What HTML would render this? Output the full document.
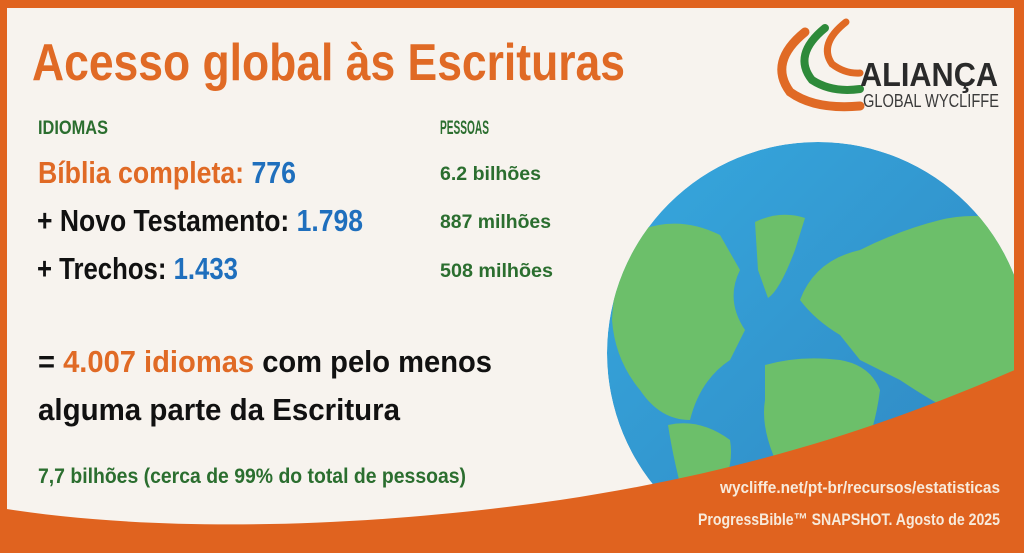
<!DOCTYPE html>
<html><head><meta charset="utf-8"><style>
html,body{margin:0;padding:0;background:#f7f3ee;}
svg{display:block}
</style></head><body>
<svg width="1024" height="553" viewBox="0 0 1024 553" xmlns="http://www.w3.org/2000/svg">
<defs>
<clipPath id="g"><circle cx="818" cy="353" r="211"/></clipPath>
<linearGradient id="oc" x1="0" y1="0" x2="1" y2="1">
<stop offset="0" stop-color="#36a8de"/><stop offset="1" stop-color="#2f84bf"/></linearGradient>
</defs>
<rect width="1024" height="553" fill="#f7f3ee"/>
<g clip-path="url(#g)">
<circle cx="818" cy="353" r="211" fill="url(#oc)"/>
<g fill="#6cbf6a">
<path d="M640,230 Q680,215 720,235 L740,270 Q725,300 745,330 L730,360 Q700,380 690,420 Q660,420 640,390 Q615,360 612,320 Q615,260 640,230Z"/>
<path d="M755,222 Q780,210 805,218 L795,250 Q780,290 768,298 L758,270 Z"/>
<path d="M800,300 Q815,260 860,250 Q900,230 940,220 Q980,210 1030,225 L1030,400 Q1000,410 980,420 L950,410 Q930,400 900,380 Q880,370 860,360 L840,335 Q815,320 800,300Z"/>
<path d="M765,365 Q800,355 840,360 Q870,365 880,390 Q875,430 860,460 Q840,490 820,500 L780,470 Q760,430 765,400Z"/>
<path d="M668,425 Q700,418 730,440 Q735,470 715,500 L690,520 Q675,470 668,425Z"/>
</g>
</g>
<path d="M0,508 C150,532 350,530 560,500 C760,470 900,420 1024,366 L1024,553 L0,553 Z" fill="#e0631f"/>
<rect x="0" y="0" width="1024" height="8" fill="#e0631f"/>
<rect x="0" y="0" width="7" height="553" fill="#e0631f"/>
<rect x="1014" y="0" width="10" height="553" fill="#e0631f"/>
<g fill="none" stroke-linecap="round">
<path d="M805,32 Q768,62 790,92 Q815,110 860,106" stroke="#e06a25" stroke-width="9"/>
<path d="M825,28 Q792,55 812,80 Q832,93 860,89" stroke="#2e8a3a" stroke-width="8"/>
<path d="M846,22 Q818,44 832,64 Q845,74 860,73" stroke="#e06a25" stroke-width="7"/>
</g>
<g font-family="Liberation Sans, sans-serif" font-weight="bold">
<text x="860" y="86" font-size="33" fill="#2a2a2a" textLength="138" lengthAdjust="spacingAndGlyphs">ALIANÇA</text>
<text x="863" y="107" font-size="18" font-weight="normal" fill="#3a3a3a" textLength="136" lengthAdjust="spacingAndGlyphs">GLOBAL WYCLIFFE</text>
<text x="32" y="80" font-size="52" fill="#e06a25" textLength="593" lengthAdjust="spacingAndGlyphs">Acesso global às Escrituras</text>
<text x="38" y="134" font-size="19" fill="#2b6e2f" textLength="70" lengthAdjust="spacingAndGlyphs">IDIOMAS</text>
<text x="440" y="134" font-size="19" fill="#2b6e2f" textLength="49" lengthAdjust="spacingAndGlyphs">PESSOAS</text>
<text x="38" y="183" font-size="31" fill="#e06a25" textLength="258" lengthAdjust="spacingAndGlyphs">Bíblia completa: <tspan fill="#1f6fbd">776</tspan></text>
<text x="37" y="231" font-size="31" fill="#111" textLength="326" lengthAdjust="spacingAndGlyphs">+ Novo Testamento: <tspan fill="#1f6fbd">1.798</tspan></text>
<text x="37" y="279" font-size="31" fill="#111" textLength="201" lengthAdjust="spacingAndGlyphs">+ Trechos: <tspan fill="#1f6fbd">1.433</tspan></text>
<text x="440" y="180" font-size="19" fill="#2b6e2f" textLength="101" lengthAdjust="spacingAndGlyphs">6.2 bilhões</text>
<text x="440" y="228" font-size="19" fill="#2b6e2f" textLength="111" lengthAdjust="spacingAndGlyphs">887 milhões</text>
<text x="440" y="277" font-size="19" fill="#2b6e2f" textLength="113" lengthAdjust="spacingAndGlyphs">508 milhões</text>
<text x="38" y="372" font-size="31" fill="#111" textLength="454" lengthAdjust="spacingAndGlyphs">= <tspan fill="#e06a25">4.007 idiomas</tspan> com pelo menos</text>
<text x="38" y="420" font-size="31" fill="#111" textLength="362" lengthAdjust="spacingAndGlyphs">alguma parte da Escritura</text>
<text x="38" y="483" font-size="21" fill="#2b6e2f" textLength="428" lengthAdjust="spacingAndGlyphs">7,7 bilhões (cerca de 99% do total de pessoas)</text>
<text x="720" y="493" font-size="17" fill="#f7eadb" textLength="280" lengthAdjust="spacingAndGlyphs">wycliffe.net/pt-br/recursos/estatisticas</text>
<text x="698" y="525" font-size="17" fill="#f7eadb" textLength="302" lengthAdjust="spacingAndGlyphs">ProgressBible™ SNAPSHOT. Agosto de 2025</text>
</g>
</svg>
</body></html>
